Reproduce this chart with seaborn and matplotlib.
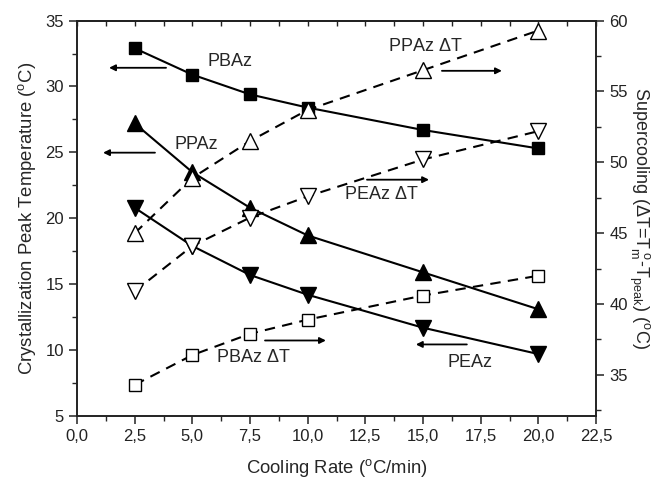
import matplotlib
matplotlib.use("Agg")
import matplotlib.pyplot as plt
import seaborn as sns
import numpy as np
import pandas as pd
from matplotlib.ticker import MultipleLocator, FixedLocator, NullFormatter

# ---------------- data ----------------
cooling_rate = [2.5, 5.0, 7.5, 10.0, 15.0, 20.0]

# crystallization peak temperature (left axis, °C)
pbaz_tc = [32.9, 30.9, 29.4, 28.4, 26.7, 25.3]
ppaz_tc = [27.2, 23.5, 20.8, 18.7, 15.9, 13.1]
peaz_tc = [20.8, 17.9, 15.7, 14.2, 11.7, 9.7]

# supercooling (right axis, °C)
ppaz_dt = [45.0, 48.9, 51.5, 53.7, 56.5, 59.3]
peaz_dt = [40.9, 44.1, 46.1, 47.6, 50.2, 52.2]
pbaz_dt = [34.3, 36.4, 37.9, 38.9, 40.6, 42.0]

xticks = [0.0, 2.5, 5.0, 7.5, 10.0, 12.5, 15.0, 17.5, 20.0, 22.5]
xtick_labels = ["0,0", "2,5", "5,0", "7,5", "10,0", "12,5", "15,0", "17,5", "20,0", "22,5"]
left_ticks = [5, 10, 15, 20, 25, 30, 35]
right_ticks = [35, 40, 45, 50, 55, 60]

# ---------------- style ----------------
sns.set_style("ticks")
plt.rcParams["font.family"] = ["Liberation Sans", "DejaVu Sans"]
plt.rcParams["mathtext.default"] = "regular"
plt.rcParams["axes.linewidth"] = 1.2

fig = plt.figure(figsize=(6.61, 4.79), dpi=100)
ax = fig.add_axes([0.1165, 0.1315, 0.9017 - 0.1165, 0.957 - 0.1315])
ax2 = ax.twinx()

ms_sq = 8.5
ms_tri = 11

def draw(axis, y, marker, filled, dashed, ms):
    kw = dict(color="black", marker=marker, markersize=ms,
              markeredgecolor="black", markeredgewidth=1.0,
              markerfacecolor="black" if filled else "white",
              linewidth=1.5)
    df = pd.DataFrame({"x": cooling_rate, "y": y})
    sns.lineplot(data=df, x="x", y="y", ax=axis, **kw)
    line = axis.lines[-1]
    if dashed:
        line.set_linestyle((0, (5, 3.5)))

draw(ax, pbaz_tc, "s", True, False, ms_sq)
draw(ax, ppaz_tc, "^", True, False, ms_tri)
draw(ax, peaz_tc, "v", True, False, ms_tri)
draw(ax2, ppaz_dt, "^", False, True, ms_tri)
draw(ax2, peaz_dt, "v", False, True, ms_tri)
draw(ax2, pbaz_dt, "s", False, True, ms_sq)

# ---------------- axes ----------------
ax.set_xlim(0, 22.5)
ax.set_ylim(5, 35)
ax2.set_ylim(32.1, 60)

ax.xaxis.set_major_locator(FixedLocator(xticks))
ax.set_xticklabels(xtick_labels)
ax.xaxis.set_minor_locator(MultipleLocator(1.25))
ax.yaxis.set_major_locator(FixedLocator(left_ticks))
ax.yaxis.set_minor_locator(MultipleLocator(2.5))
ax2.yaxis.set_major_locator(FixedLocator(right_ticks))
ax2.yaxis.set_minor_locator(MultipleLocator(2.5))

for a in (ax, ax2):
    for s in a.spines.values():
        s.set_visible(True)
        s.set_linewidth(1.2)
        s.set_color("#222222")

ax.tick_params(axis="both", which="major", direction="out", length=6, width=1.1,
               labelsize=12, colors="#222222")
ax.tick_params(axis="both", which="minor", direction="out", length=3.5, width=1.0)
ax2.tick_params(axis="y", which="major", direction="out", length=6, width=1.1,
                labelsize=12, colors="#222222")
ax2.tick_params(axis="y", which="minor", direction="out", length=3.5, width=1.0)

# top axis: small inward ticks, no labels
top = ax.secondary_xaxis("top")
top.xaxis.set_major_locator(MultipleLocator(1.25))
top.xaxis.set_major_formatter(NullFormatter())
top.tick_params(axis="x", which="major", direction="in", length=3.5, width=1.0,
                colors="#222222")
top.spines["top"].set_linewidth(1.2)

ax.set_xlabel("Cooling Rate ($^o$C/min)", fontsize=13.3, labelpad=9)
ax.set_ylabel("Crystallization Peak Temperature ($^o$C)", fontsize=13.3, labelpad=5)
ax2.set_ylabel("Supercooling ($\\Delta$T=T$_m^{\\ o}$-T$_{peak}$) ($^o$C)",
               fontsize=13, rotation=270, labelpad=17)

# ---------------- annotations ----------------
fs = 13
ax.text(6.63, 31.9, "PBAz", fontsize=fs, ha="center", va="center")
ax.text(15.1, 33.0, "PPAz $\\Delta$T", fontsize=fs, ha="center", va="center")
ax.text(5.16, 25.6, "PPAz", fontsize=fs, ha="center", va="center")
ax.text(13.2, 21.8, "PEAz $\\Delta$T", fontsize=fs, ha="center", va="center")
ax.text(7.65, 9.45, "PBAz $\\Delta$T", fontsize=fs, ha="center", va="center")
ax.text(17.05, 9.05, "PEAz", fontsize=fs, ha="center", va="center")

arrow_kw = dict(arrowstyle="-|>", color="black", lw=1.3, mutation_scale=9,
                shrinkA=0, shrinkB=0)
arrows = [((3.86, 31.42), (1.39, 31.42)),
          ((15.82, 31.19), (18.42, 31.19)),
          ((3.38, 24.98), (1.13, 24.98)),
          ((12.57, 22.93), (15.26, 22.93)),
          ((8.15, 10.73), (10.79, 10.73)),
          ((16.9, 10.43), (14.69, 10.43))]
for tail, head in arrows:
    ax.annotate("", xy=head, xytext=tail, arrowprops=arrow_kw)

fig.savefig("out.png", dpi=100)
